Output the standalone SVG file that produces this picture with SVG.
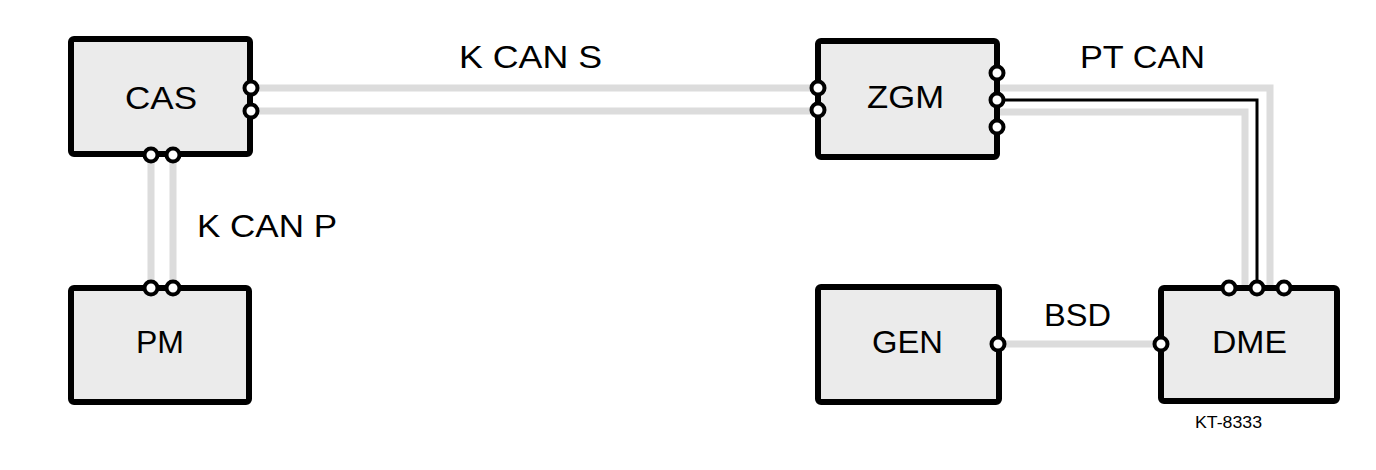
<svg xmlns="http://www.w3.org/2000/svg" width="1376" height="470" viewBox="0 0 1376 470">
<style>
.box{fill:#ebebeb;stroke:#000;stroke-width:6}
.pin{fill:#fff;stroke:#000;stroke-width:4}
.bus{fill:none;stroke:#dcdcdc;stroke-width:7}
.wire{fill:none;stroke:#000;stroke-width:3}
.lbl{font-family:"Liberation Sans",Arial,sans-serif;font-size:32px;fill:#000}
.small{font-family:"Liberation Sans",Arial,sans-serif;font-size:17px;fill:#000}
</style>
<rect width="1376" height="470" fill="#fff"/>
<g id="connectors">
<path class="bus" d="M251 88H818M251 111H818"/>
<path class="bus" d="M151 155V288M173 155V288"/>
<path class="bus" d="M998 344H1161"/>
<path class="bus" d="M997 88H1270V288M997 112H1245V288"/>
<path class="wire" d="M997 100H1257V288"/>
</g>
<g id="label-kcans"><text class="lbl" x="459" y="68" textLength="143" lengthAdjust="spacingAndGlyphs">K CAN S</text></g>
<g id="label-ptcan"><text class="lbl" x="1080" y="68" textLength="125" lengthAdjust="spacingAndGlyphs">PT CAN</text></g>
<g id="label-kcanp"><text class="lbl" x="197" y="237" textLength="140" lengthAdjust="spacingAndGlyphs">K CAN P</text></g>
<g id="label-bsd"><text class="lbl" x="1044" y="326" textLength="67" lengthAdjust="spacingAndGlyphs">BSD</text></g>
<g id="CAS">
<rect class="box" x="71" y="39" width="179" height="115" rx="3"/>
<text class="lbl" x="125" y="109" textLength="72" lengthAdjust="spacingAndGlyphs">CAS</text>
<circle class="pin" cx="251" cy="88" r="6.5"/><circle class="pin" cx="251" cy="111" r="6.5"/>
<circle class="pin" cx="151" cy="155" r="6.5"/><circle class="pin" cx="173" cy="155" r="6.5"/>
</g>
<g id="PM">
<rect class="box" x="71" y="288" width="178" height="114" rx="3"/>
<text class="lbl" x="136" y="353" textLength="48" lengthAdjust="spacingAndGlyphs">PM</text>
<circle class="pin" cx="151" cy="288" r="6.5"/><circle class="pin" cx="173" cy="288" r="6.5"/>
</g>
<g id="ZGM">
<rect class="box" x="818" y="41" width="179" height="116" rx="3"/>
<text class="lbl" x="867" y="108" textLength="77" lengthAdjust="spacingAndGlyphs">ZGM</text>
<circle class="pin" cx="818" cy="88" r="6.5"/><circle class="pin" cx="818" cy="110" r="6.5"/>
<circle class="pin" cx="997" cy="73" r="6.5"/><circle class="pin" cx="997" cy="100" r="6.5"/><circle class="pin" cx="997" cy="127" r="6.5"/>
</g>
<g id="GEN">
<rect class="box" x="818" y="287" width="181" height="115" rx="3"/>
<text class="lbl" x="872" y="353" textLength="71" lengthAdjust="spacingAndGlyphs">GEN</text>
<circle class="pin" cx="998" cy="344" r="6.5"/>
</g>
<g id="DME">
<rect class="box" x="1161" y="288" width="176" height="113" rx="3"/>
<text class="lbl" x="1212" y="353" textLength="75" lengthAdjust="spacingAndGlyphs">DME</text>
<circle class="pin" cx="1161" cy="344" r="6.5"/>
<circle class="pin" cx="1229" cy="288" r="6.5"/><circle class="pin" cx="1257" cy="288" r="6.5"/><circle class="pin" cx="1284" cy="288" r="6.5"/>
</g>
<g id="ref"><text class="small" x="1195" y="428" textLength="67" lengthAdjust="spacingAndGlyphs">KT-8333</text></g>
</svg>
